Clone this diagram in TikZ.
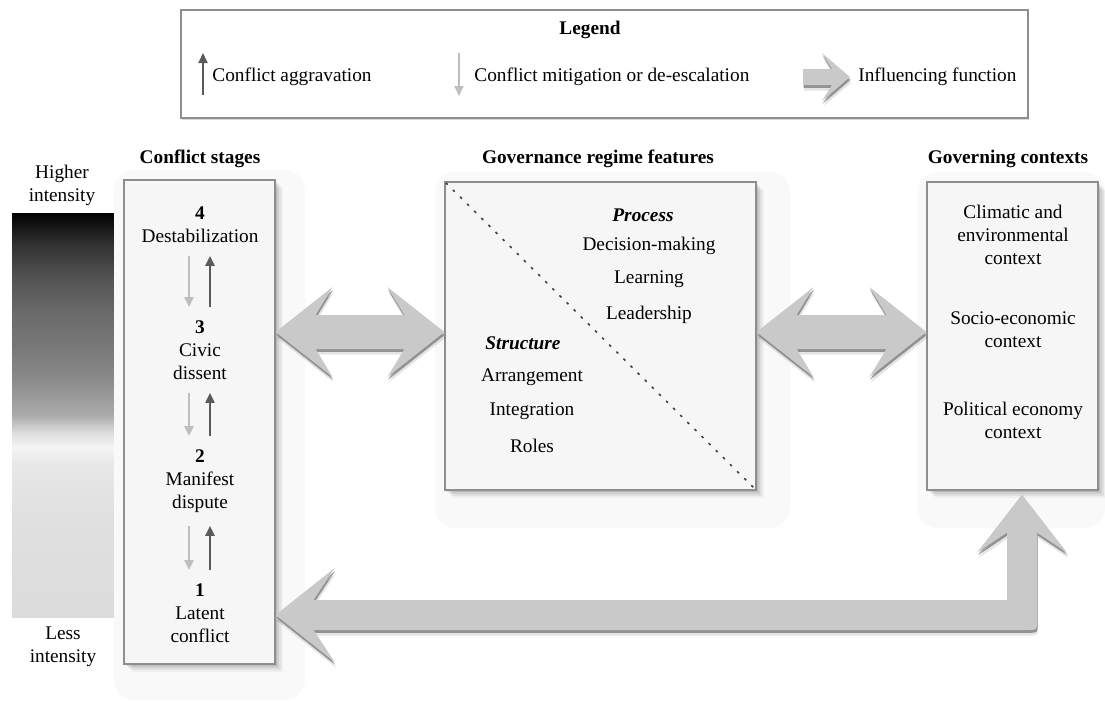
\documentclass[tikz,border=0pt]{standalone}
\usepackage{fontspec}
\setmainfont{Liberation Serif}
\usetikzlibrary{arrows.meta,shadows,calc,fit}

\definecolor{boxfill}{HTML}{F6F6F6}
\definecolor{boxline}{HTML}{8E8E8E}
\definecolor{blockfill}{HTML}{C9C9C9}
\definecolor{upcol}{HTML}{5A5A5A}
\definecolor{dncol}{HTML}{BEBEBE}
\definecolor{halo}{HTML}{F9F9F9}

% intensity scale: light grey at the bottom, black at the top
\pgfdeclareverticalshading{intensity}{100bp}{
  color(0bp)=(black!14); color(25bp)=(black!14); color(38bp)=(black!12);
  color(44bp)=(black!9); color(46bp)=(black!4); color(47.75bp)=(black!13);
  color(50bp)=(black!33); color(54.5bp)=(black!46); color(58.5bp)=(black!53);
  color(62.5bp)=(black!58); color(66.75bp)=(black!67); color(71bp)=(black!80);
  color(75bp)=(black); color(100bp)=(black)}

\tikzset{
  softshadow/.style={
    general shadow={shadow xshift=1pt,shadow yshift=-1pt,fill=black,opacity=.10},
    general shadow={shadow xshift=2pt,shadow yshift=-2pt,fill=black,opacity=.08},
    general shadow={shadow xshift=3pt,shadow yshift=-3pt,fill=black,opacity=.06},
    general shadow={shadow xshift=4pt,shadow yshift=-4pt,fill=black,opacity=.04}},
  box/.style={draw=boxline,line width=0.6pt,fill=boxfill,inner sep=0pt,softshadow},
  legendbox/.style={draw=boxline,line width=0.7pt,fill=white,inner sep=0pt,
    general shadow={shadow xshift=0.6pt,shadow yshift=-0.8pt,fill=black,opacity=.15}},
  txt/.style={inner sep=0pt,align=center},
  ttl/.style={txt,font=\fontsize{9.65}{11.5}\selectfont\bfseries},
  uparrow/.style={draw=upcol,line width=1pt,-{Triangle[length=5pt,width=4.5pt]}},
  dnarrow/.style={draw=dncol,line width=1pt,-{Triangle[length=5pt,width=4.5pt]}},
  stagegap/.style={shorten <=6.5pt,shorten >=6.5pt},
  blockarrow/.style={fill=blockfill,
    general shadow={shadow xshift=0.3pt,shadow yshift=-1.4pt,fill=black!45,opacity=.8},
    general shadow={shadow xshift=0.6pt,shadow yshift=-2.8pt,fill=black,opacity=.10}},
}

\begin{document}
\begin{tikzpicture}[x=0.5pt,y=-0.5pt,font=\fontsize{9.65}{11.5}\selectfont]
\useasboundingbox (0,0) rectangle (1105,702);

% ---------- legend ----------
\node[legendbox,fit={(181,10) (1028,118)}] (legend) {};
\node[ttl] (legtitle) at (590,30) {Legend};
\coordinate (lua) at (203,95);
\coordinate (lub) at (203,53);
\draw[uparrow] (lua) -- (lub);
\node[txt,anchor=west] (legup) at (212,77) {Conflict aggravation};
\coordinate (lda) at (459,53);
\coordinate (ldb) at (459,96);
\draw[dnarrow] (lda) -- (ldb);
\node[txt,anchor=west] (legdn) at (474,77) {Conflict mitigation or de-escalation};
\coordinate (ls) at (803,77);
\coordinate (lt) at (850,77);
\fill[blockarrow] (lt) -- ([shift={(-28,-24)}]lt) -- ([shift={(-18,-8)}]lt)
  -- ([shift={(0,-8)}]ls) -- ([shift={(0,8)}]ls) -- ([shift={(-18,8)}]lt)
  -- ([shift={(-28,24)}]lt) -- cycle;
\node[txt,anchor=west] (leginf) at (858,77) {Influencing function};

% ---------- intensity scale ----------
\node[txt] (higher) at (62,185.5) {Higher\\intensity};
\shade[shading=intensity] (12,213) rectangle (118,617);
\node[txt] (less) at (63,647) {Less\\intensity};

% ---------- faint halos behind the boxes ----------
\fill[halo,rounded corners=10pt] (114,170) rectangle (305,700);
\fill[halo,rounded corners=10pt] (435,172) rectangle (790,528);
\fill[halo,rounded corners=10pt] (917,172) rectangle (1105,528);

% ---------- boxes ----------
\node[box,fit={(124,180) (275,664)}] (stages) {};
\node[box,fit={(445,182) (756,490)}] (gov) {};
\node[box,fit={(927,182) (1098,490)}] (ctx) {};

\node[ttl] (tstages) at (200,159) {Conflict stages};
\node[ttl] (tgov) at (598,159) {Governance regime features};
\node[ttl] (tctx) at (1008,159) {Governing contexts};

% ---------- conflict stages ----------
\node[txt] (s4) at (200,224.5) {\textbf{4}\\Destabilization};
\node[txt] (s3) at (200,350) {\textbf{3}\\Civic\\dissent};
\node[txt] (s2) at (200,481) {\textbf{2}\\Manifest\\dispute};
\node[txt] (s1) at (200,613) {\textbf{1}\\Latent\\conflict};
\foreach \hi/\lo in {s4/s3,s3/s2,s2/s1}{
  \draw[dnarrow,stagegap] ([xshift=-5.5pt]\hi.south) -- ([xshift=-5.5pt]\lo.north);
  \draw[uparrow,stagegap] ([xshift=5pt]\lo.north) -- ([xshift=5pt]\hi.south);
}

% ---------- governance regime features ----------
\draw[black!75,line width=0.8pt,dash pattern=on 1.3pt off 3.7pt,shorten <=1pt,shorten >=2pt]
  (gov.north west) -- (gov.south east);
\node[txt,font=\fontsize{9.65}{11.5}\selectfont\bfseries\itshape] (proc) at (643,215) {Process};
\node[txt] (p1) at (649,246) {Decision-making};
\node[txt] (p2) at (649,279) {Learning};
\node[txt] (p3) at (649,315) {Leadership};
\node[txt,font=\fontsize{9.65}{11.5}\selectfont\bfseries\itshape] (struc) at (523,343) {Structure};
\node[txt] (r1) at (532,377) {Arrangement};
\node[txt] (r2) at (532,411) {Integration};
\node[txt] (r3) at (532,446) {Roles};

% ---------- governing contexts ----------
\node[txt] (c1) at (1013,235) {Climatic and\\environmental\\context};
\node[txt] (c2) at (1013,330) {Socio-economic\\context};
\node[txt] (c3) at (1013,420) {Political economy\\context};

% ---------- influencing functions ----------
\coordinate (al) at (stages.east |- 0,332);
\coordinate (ar) at (gov.west |- 0,332);
\fill[blockarrow] (al) -- ([shift={(57,-45)}]al) -- ([shift={(40,-17)}]al)
  -- ([shift={(-40,-17)}]ar) -- ([shift={(-57,-45)}]ar) -- (ar)
  -- ([shift={(-57,45)}]ar) -- ([shift={(-40,17)}]ar)
  -- ([shift={(40,17)}]al) -- ([shift={(57,45)}]al) -- cycle;

\coordinate (bl) at (gov.east |- 0,332);
\coordinate (br) at (ctx.west |- 0,332);
\fill[blockarrow] (bl) -- ([shift={(57,-45)}]bl) -- ([shift={(40,-17)}]bl)
  -- ([shift={(-40,-17)}]br) -- ([shift={(-57,-45)}]br) -- (br)
  -- ([shift={(-57,45)}]br) -- ([shift={(-40,17)}]br)
  -- ([shift={(40,17)}]bl) -- ([shift={(57,45)}]bl) -- cycle;

\coordinate (cl) at (stages.east |- 0,615);
\coordinate (cu) at ($(ctx.south)+(9.5,4)$);
\coordinate (cc) at (cu |- cl);
\fill[blockarrow] (cl) -- ([shift={(59,-47)}]cl) -- ([shift={(38,-15)}]cl)
  -- ([shift={(-15,-15)}]cc) -- ([shift={(-15,38)}]cu) -- ([shift={(-45,58)}]cu)
  -- (cu) -- ([shift={(45,58)}]cu) -- ([shift={(15,38)}]cu)
  -- ([shift={(15,6)}]cc) .. controls ([shift={(15,15)}]cc) .. ([shift={(6,15)}]cc)
  -- ([shift={(38,15)}]cl) -- ([shift={(59,47)}]cl) -- cycle;
\end{tikzpicture}
\end{document}
